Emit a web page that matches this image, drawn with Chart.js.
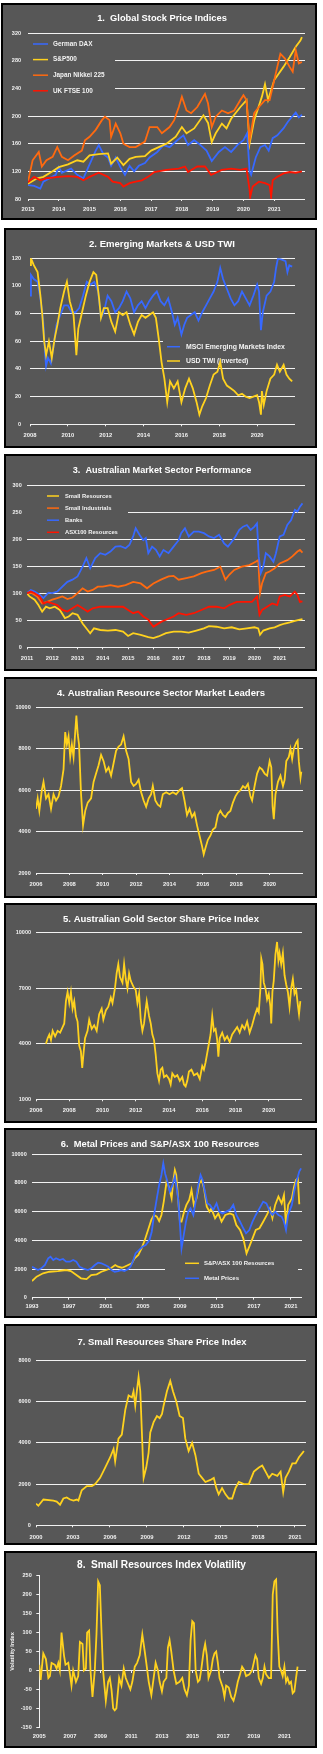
<!DOCTYPE html>
<html>
<head>
<meta charset="utf-8">
<title>Market charts</title>
<script src="https://cdn.jsdelivr.net/npm/chart.js@4.4.1/dist/chart.umd.min.js"></script>
<style>
  body { margin: 0; background: #fff; }
  .panel { position: absolute; box-sizing: border-box; background: #575757; border: 2px solid #000; }
  .panel canvas { display: block; }
</style>
</head>
<body>
<script>
//Chart data - [year, value] pairs

//1. Global stock price indices
const daxSeries = [[2013.0,100],[2013.2,99],[2013.4,95],[2013.5,105],[2013.9,115],[2014.0,126],[2014.1,118],[2014.4,124],[2014.6,115],[2014.8,110],[2014.95,125],[2015.2,150],[2015.3,158],[2015.45,145],[2015.6,140],[2015.7,128],[2015.85,140],[2016.0,126],[2016.15,115],[2016.3,128],[2016.45,120],[2016.6,128],[2016.8,132],[2016.95,140],[2017.2,148],[2017.4,158],[2017.6,155],[2017.85,165],[2018.05,172],[2018.2,158],[2018.4,165],[2018.55,160],[2018.8,150],[2018.97,135],[2019.2,148],[2019.4,155],[2019.6,148],[2019.8,158],[2020.0,165],[2020.12,175],[2020.2,120],[2020.25,115],[2020.4,140],[2020.55,155],[2020.7,158],[2020.82,150],[2020.95,168],[2021.1,172],[2021.3,182],[2021.45,192],[2021.6,200],[2021.7,205],[2021.8,198],[2021.9,202]];
const spxSeries = [[2013.0,102],[2013.3,110],[2013.5,112],[2013.8,120],[2014.0,126],[2014.3,130],[2014.6,136],[2014.8,134],[2015.0,143],[2015.3,145],[2015.6,146],[2015.7,131],[2015.9,140],[2016.1,129],[2016.3,138],[2016.5,141],[2016.8,142],[2017.0,150],[2017.5,160],[2017.8,170],[2018.0,184],[2018.15,175],[2018.4,182],[2018.7,201],[2018.85,190],[2018.97,162],[2019.1,175],[2019.3,189],[2019.45,182],[2019.6,196],[2019.9,213],[2020.1,223],[2020.2,160],[2020.35,194],[2020.6,228],[2020.7,246],[2020.8,223],[2021.0,252],[2021.3,271],[2021.5,285],[2021.7,300],[2021.85,309],[2021.9,314]];
const nikkeiSeries = [[2013.0,105],[2013.15,136],[2013.35,148],[2013.45,127],[2013.6,136],[2013.8,141],[2013.95,155],[2014.1,141],[2014.3,136],[2014.5,143],[2014.75,150],[2014.85,165],[2015.0,170],[2015.2,180],[2015.4,194],[2015.5,199],[2015.65,194],[2015.7,170],[2015.85,189],[2016.0,175],[2016.1,160],[2016.3,155],[2016.5,155],[2016.8,163],[2016.95,184],[2017.2,184],[2017.35,175],[2017.6,184],[2017.75,194],[2017.9,213],[2018.0,228],[2018.15,208],[2018.3,204],[2018.5,213],[2018.75,232],[2018.85,218],[2018.97,184],[2019.1,199],[2019.3,208],[2019.5,204],[2019.7,208],[2019.9,223],[2020.0,230],[2020.1,223],[2020.2,165],[2020.35,204],[2020.5,213],[2020.7,223],[2020.85,223],[2020.95,242],[2021.1,271],[2021.2,290],[2021.35,283],[2021.5,271],[2021.6,264],[2021.7,295],[2021.8,276],[2021.9,278]];
const ftseSeries = [[2013.0,104],[2013.2,112],[2013.4,107],[2013.6,110],[2014.0,112],[2014.3,113],[2014.6,112],[2014.8,107],[2015.0,112],[2015.3,118],[2015.6,112],[2015.75,105],[2016.0,103],[2016.1,98],[2016.3,103],[2016.5,105],[2016.7,107],[2016.9,112],[2017.1,119],[2017.5,122],[2017.9,124],[2018.1,127],[2018.2,119],[2018.5,127],[2018.75,127],[2018.95,115],[2019.3,122],[2019.6,124],[2019.9,122],[2020.1,124],[2020.2,93],[2020.22,83],[2020.3,98],[2020.5,105],[2020.7,103],[2020.85,100],[2020.9,83],[2020.95,107],[2021.1,112],[2021.3,117],[2021.5,119],[2021.7,118],[2021.9,120]];

//2. Emerging markets & USD TWI
const msciSeries = [[2008.0,93],[2008.05,108],[2008.2,105],[2008.4,103],[2008.55,91],[2008.7,74],[2008.8,50],[2008.85,42],[2008.95,48],[2009.1,44],[2009.25,57],[2009.4,72],[2009.6,79],[2009.8,86],[2010.0,86],[2010.2,81],[2010.4,81],[2010.6,84],[2010.8,93],[2011.0,103],[2011.2,101],[2011.4,103],[2011.6,96],[2011.75,77],[2011.9,81],[2012.1,93],[2012.3,89],[2012.5,81],[2012.7,84],[2012.9,89],[2013.1,96],[2013.3,91],[2013.5,81],[2013.7,86],[2013.9,89],[2014.1,84],[2014.3,89],[2014.5,93],[2014.7,96],[2014.9,89],[2015.1,86],[2015.3,91],[2015.5,81],[2015.65,72],[2015.8,77],[2016.0,65],[2016.15,72],[2016.3,77],[2016.5,79],[2016.7,81],[2016.9,75],[2017.1,81],[2017.3,86],[2017.5,91],[2017.7,96],[2017.9,103],[2018.05,113],[2018.2,105],[2018.4,98],[2018.6,91],[2018.8,86],[2019.0,89],[2019.2,96],[2019.4,91],[2019.6,86],[2019.8,93],[2020.0,101],[2020.1,96],[2020.2,68],[2020.3,81],[2020.5,93],[2020.7,96],[2020.9,103],[2021.0,113],[2021.1,120],[2021.3,119],[2021.5,118],[2021.6,110],[2021.7,115],[2021.85,114]];
const usdTwiSeries = [[2008.0,115],[2008.05,120],[2008.2,115],[2008.4,110],[2008.55,93],[2008.65,79],[2008.75,60],[2008.85,50],[2009.0,60],[2009.15,48],[2009.3,62],[2009.45,72],[2009.6,84],[2009.8,96],[2009.95,103],[2010.1,89],[2010.3,79],[2010.45,50],[2010.55,69],[2010.75,81],[2010.95,93],[2011.15,103],[2011.35,110],[2011.5,108],[2011.65,91],[2011.75,77],[2011.9,84],[2012.1,84],[2012.3,74],[2012.5,67],[2012.7,81],[2012.9,79],[2013.1,81],[2013.3,72],[2013.5,65],[2013.7,74],[2013.9,79],[2014.1,77],[2014.3,79],[2014.5,81],[2014.65,77],[2014.8,62],[2014.95,45],[2015.1,33],[2015.25,16],[2015.4,31],[2015.6,26],[2015.8,31],[2016.0,16],[2016.2,26],[2016.4,33],[2016.6,26],[2016.8,16],[2016.95,7],[2017.1,13],[2017.3,19],[2017.5,28],[2017.7,36],[2017.9,38],[2018.05,45],[2018.2,33],[2018.4,28],[2018.6,26],[2018.8,24],[2019.0,21],[2019.2,22],[2019.4,20],[2019.6,19],[2019.8,20],[2020.0,21],[2020.1,16],[2020.2,7],[2020.25,24],[2020.35,14],[2020.5,24],[2020.7,33],[2020.9,36],[2021.05,43],[2021.2,38],[2021.4,43],[2021.55,36],[2021.7,33],[2021.85,31]];

//3. Australian market sector performance
const smallResSeries = [[2011.0,100],[2011.1,94],[2011.3,88],[2011.45,78],[2011.6,66],[2011.75,75],[2011.9,72],[2012.1,75],[2012.3,69],[2012.5,54],[2012.65,57],[2012.8,63],[2013.0,60],[2013.2,44],[2013.4,32],[2013.5,26],[2013.65,35],[2013.9,32],[2014.2,31],[2014.5,32],[2014.8,29],[2015.0,21],[2015.2,26],[2015.5,23],[2015.8,19],[2016.0,17],[2016.2,20],[2016.5,26],[2016.8,29],[2017.1,29],[2017.4,27],[2017.7,31],[2018.0,35],[2018.2,39],[2018.5,38],[2018.8,35],[2019.1,37],[2019.4,33],[2019.7,35],[2020.0,37],[2020.15,35],[2020.22,23],[2020.35,31],[2020.6,35],[2020.8,37],[2021.0,41],[2021.2,44],[2021.4,46],[2021.6,49],[2021.8,51],[2021.9,52]];
const smallIndSeries = [[2011.0,100],[2011.2,100],[2011.4,94],[2011.6,81],[2011.8,84],[2012.0,88],[2012.2,91],[2012.4,94],[2012.6,89],[2012.8,92],[2013.0,100],[2013.2,109],[2013.4,103],[2013.6,106],[2013.8,112],[2014.0,112],[2014.3,115],[2014.6,112],[2014.9,115],[2015.2,121],[2015.5,118],[2015.75,109],[2016.0,118],[2016.3,125],[2016.6,131],[2016.8,132],[2017.0,125],[2017.3,128],[2017.6,131],[2017.9,137],[2018.1,140],[2018.4,143],[2018.65,149],[2018.85,125],[2019.0,134],[2019.2,143],[2019.5,149],[2019.8,152],[2020.05,158],[2020.15,161],[2020.22,100],[2020.3,118],[2020.45,137],[2020.6,140],[2020.8,146],[2021.0,155],[2021.3,161],[2021.5,168],[2021.7,177],[2021.8,180],[2021.9,175]];
const banksSeries = [[2011.0,100],[2011.15,106],[2011.3,103],[2011.5,97],[2011.65,91],[2011.85,101],[2012.0,100],[2012.2,103],[2012.4,112],[2012.6,121],[2012.8,125],[2013.0,131],[2013.2,149],[2013.35,165],[2013.5,146],[2013.7,165],[2013.9,174],[2014.1,171],[2014.3,177],[2014.5,186],[2014.7,187],[2014.9,183],[2015.05,189],[2015.2,205],[2015.3,220],[2015.45,208],[2015.6,198],[2015.7,202],[2015.8,174],[2015.95,186],[2016.1,180],[2016.25,168],[2016.4,180],[2016.6,174],[2016.8,186],[2017.0,198],[2017.1,211],[2017.25,220],[2017.4,205],[2017.6,214],[2017.8,214],[2018.0,211],[2018.2,205],[2018.4,202],[2018.6,208],[2018.8,192],[2018.95,186],[2019.1,195],[2019.25,205],[2019.4,217],[2019.55,223],[2019.7,226],[2019.85,217],[2020.0,223],[2020.1,229],[2020.17,168],[2020.25,137],[2020.35,149],[2020.45,174],[2020.6,168],[2020.75,158],[2020.85,174],[2021.0,205],[2021.15,208],[2021.3,226],[2021.45,235],[2021.6,254],[2021.7,251],[2021.8,260],[2021.9,266]];
const asx100ResSeries = [[2011.0,100],[2011.15,103],[2011.3,100],[2011.5,94],[2011.65,81],[2011.8,84],[2012.0,81],[2012.2,78],[2012.4,69],[2012.6,66],[2012.8,72],[2013.0,78],[2013.2,72],[2013.4,66],[2013.6,72],[2013.9,75],[2014.2,75],[2014.5,75],[2014.8,75],[2015.0,69],[2015.2,63],[2015.4,66],[2015.6,57],[2015.8,51],[2016.0,38],[2016.1,41],[2016.3,47],[2016.5,51],[2016.8,57],[2017.0,63],[2017.3,60],[2017.6,63],[2017.9,69],[2018.2,75],[2018.5,75],[2018.8,72],[2019.0,78],[2019.3,84],[2019.6,84],[2019.9,84],[2020.1,94],[2020.2,60],[2020.3,69],[2020.5,75],[2020.7,81],[2020.9,78],[2021.0,94],[2021.2,97],[2021.4,94],[2021.6,103],[2021.7,97],[2021.8,84],[2021.9,85]];

//4. Australian resource sector market leaders
const resLeadersSeries = [[2006.0,5100],[2006.1,5600],[2006.2,5000],[2006.35,6000],[2006.45,6400],[2006.6,5600],[2006.75,5800],[2006.9,5100],[2007.05,5800],[2007.2,5500],[2007.35,5700],[2007.5,6200],[2007.65,7000],[2007.75,8800],[2007.85,8200],[2007.95,8600],[2008.05,7600],[2008.15,8200],[2008.25,7600],[2008.35,8800],[2008.42,9600],[2008.5,8700],[2008.58,8200],[2008.7,5800],[2008.82,4300],[2008.95,5000],[2009.1,5400],[2009.3,5600],[2009.45,6400],[2009.6,6800],[2009.75,7200],[2009.9,7700],[2010.05,7400],[2010.2,6900],[2010.35,7100],[2010.5,6700],[2010.65,7300],[2010.8,7900],[2010.95,8100],[2011.1,8200],[2011.25,8600],[2011.4,7900],[2011.55,7500],[2011.7,6400],[2011.85,6200],[2012.0,6300],[2012.15,6500],[2012.3,5900],[2012.45,5500],[2012.6,5200],[2012.75,5600],[2012.9,5800],[2013.0,6200],[2013.15,5500],[2013.3,5300],[2013.45,5200],[2013.6,5800],[2013.8,5900],[2014.0,5800],[2014.2,5900],[2014.4,5800],[2014.6,6000],[2014.75,6100],[2014.9,5500],[2015.05,4800],[2015.2,5100],[2015.35,4700],[2015.5,4900],[2015.65,4300],[2015.8,3800],[2015.95,3300],[2016.05,2900],[2016.15,3200],[2016.3,3600],[2016.45,3800],[2016.6,4100],[2016.75,4200],[2016.9,4800],[2017.05,5000],[2017.2,4800],[2017.35,4700],[2017.5,4900],[2017.65,5000],[2017.8,5400],[2017.95,5700],[2018.1,5900],[2018.25,6000],[2018.4,6200],[2018.55,6100],[2018.7,6300],[2018.85,5700],[2018.95,5500],[2019.1,6200],[2019.25,6800],[2019.4,7100],[2019.55,7000],[2019.7,6800],[2019.85,6700],[2020.0,7400],[2020.1,7100],[2020.18,5200],[2020.25,4600],[2020.35,5800],[2020.5,6400],[2020.65,6700],[2020.8,6200],[2020.9,6500],[2021.0,7400],[2021.15,7600],[2021.25,8000],[2021.35,7500],[2021.45,8000],[2021.6,8300],[2021.68,8400],[2021.75,7400],[2021.85,6600],[2021.9,6900]];

//5. Australian gold sector share price index
const goldSeries = [[2006.6,4000],[2006.7,4300],[2006.8,4500],[2006.9,4200],[2007.0,4700],[2007.15,4400],[2007.3,4700],[2007.45,4600],[2007.6,4900],[2007.7,5100],[2007.8,6300],[2007.9,6800],[2008.0,6200],[2008.1,6800],[2008.2,5900],[2008.3,6300],[2008.4,5500],[2008.5,5200],[2008.6,3900],[2008.7,3600],[2008.78,2700],[2008.85,3400],[2008.95,4300],[2009.1,4700],[2009.2,5300],[2009.35,4800],[2009.5,5000],[2009.65,4700],[2009.8,5600],[2009.95,5900],[2010.05,5300],[2010.2,5800],[2010.35,6000],[2010.5,6500],[2010.6,6200],[2010.75,7000],[2010.85,7800],[2010.95,8300],[2011.05,7600],[2011.2,7300],[2011.3,8300],[2011.4,7500],[2011.5,7000],[2011.6,7800],[2011.7,7400],[2011.85,7100],[2012.0,6900],[2012.1,6200],[2012.2,6700],[2012.3,5300],[2012.4,4700],[2012.5,5100],[2012.6,5900],[2012.66,6300],[2012.8,5500],[2012.9,5100],[2013.0,4500],[2013.1,4200],[2013.2,3400],[2013.3,2400],[2013.4,2000],[2013.5,2600],[2013.6,2700],[2013.7,2200],[2013.85,2300],[2014.0,2100],[2014.1,1800],[2014.2,2400],[2014.35,2200],[2014.5,2300],[2014.65,2000],[2014.8,2200],[2014.9,1800],[2015.0,1700],[2015.1,2000],[2015.2,2500],[2015.35,2600],[2015.5,2300],[2015.7,2400],[2015.85,2100],[2016.0,2800],[2016.1,2600],[2016.2,3000],[2016.3,3500],[2016.4,4000],[2016.5,4500],[2016.6,5500],[2016.7,4700],[2016.8,4800],[2016.9,4200],[2016.97,3300],[2017.05,4300],[2017.2,4600],[2017.35,4200],[2017.5,4400],[2017.65,4100],[2017.8,4500],[2017.95,4700],[2018.1,4900],[2018.25,4600],[2018.4,5000],[2018.55,4800],[2018.7,5200],[2018.85,4600],[2019.0,5000],[2019.15,5500],[2019.3,5900],[2019.4,5700],[2019.5,7000],[2019.55,8600],[2019.62,8300],[2019.7,7300],[2019.8,7000],[2019.9,6400],[2020.0,6700],[2020.1,6000],[2020.15,5100],[2020.22,6800],[2020.3,7400],[2020.4,8800],[2020.5,9500],[2020.58,8500],[2020.65,8900],[2020.75,8300],[2020.85,8900],[2020.95,7700],[2021.05,7200],[2021.15,6800],[2021.25,6000],[2021.35,7000],[2021.45,7500],[2021.55,6700],[2021.65,6900],[2021.75,6100],[2021.82,5600],[2021.9,6300]];

//6. Metal prices and S&P/ASX 100 resources
const resourcesSeries = [[1993.0,1160],[1993.5,1470],[1994.2,1700],[1994.9,1810],[1995.8,1860],[1996.7,1930],[1997.2,1860],[1997.8,1580],[1998.3,1350],[1998.9,1300],[1999.4,1580],[2000.0,1630],[2000.5,1810],[2001.05,1930],[2001.6,2090],[2002.0,2280],[2002.3,2160],[2002.7,2090],[2003.0,2160],[2003.4,2280],[2003.8,2400],[2004.1,2750],[2004.5,2980],[2004.85,3440],[2005.2,4020],[2005.55,4720],[2005.9,5420],[2006.2,5770],[2006.5,5650],[2006.75,5350],[2007.0,5770],[2007.25,6700],[2007.55,8090],[2007.8,7750],[2008.1,6930],[2008.27,8090],[2008.45,8900],[2008.6,8560],[2008.8,6930],[2009.0,5300],[2009.17,5300],[2009.45,6000],[2009.7,6470],[2010.0,6820],[2010.25,7510],[2010.5,6470],[2010.8,6930],[2011.1,7980],[2011.35,8210],[2011.6,7630],[2011.9,6350],[2012.2,6000],[2012.4,6230],[2012.8,5540],[2013.15,5880],[2013.5,5300],[2013.9,5770],[2014.4,5880],[2014.77,5770],[2015.1,5070],[2015.5,4720],[2015.85,4140],[2016.2,3090],[2016.5,3560],[2016.85,4140],[2017.2,4720],[2017.6,4840],[2018.0,5300],[2018.4,5770],[2018.74,6230],[2019.0,5540],[2019.3,6470],[2019.65,7050],[2020.0,6580],[2020.25,7160],[2020.47,5070],[2020.7,6470],[2021.1,6930],[2021.35,7750],[2021.55,8210],[2021.75,8330],[2021.9,6580],[2022.0,6580]];
const metalSeries = [[1993.0,2160],[1993.3,2050],[1993.65,1930],[1994.0,2050],[1994.4,2280],[1994.75,2750],[1995.0,2860],[1995.3,2630],[1995.6,2750],[1996.0,2630],[1996.35,2700],[1996.7,2510],[1997.1,2510],[1997.45,2630],[1997.8,2510],[1998.15,2160],[1998.5,2050],[1999.05,1930],[1999.4,2050],[1999.8,2280],[2000.15,2440],[2000.5,2400],[2000.9,2280],[2001.25,2160],[2001.6,1930],[2001.95,1810],[2002.3,1860],[2002.65,1930],[2003.0,1860],[2003.4,2000],[2003.65,2160],[2003.9,2510],[2004.2,3090],[2004.6,3330],[2004.95,3560],[2005.3,3680],[2005.7,4020],[2005.95,4600],[2006.2,5770],[2006.5,6930],[2006.75,7860],[2007.0,8560],[2007.2,9370],[2007.4,8650],[2007.6,8210],[2007.9,7400],[2008.2,7860],[2008.45,8440],[2008.6,7860],[2008.8,6930],[2009.0,5070],[2009.17,3440],[2009.35,4140],[2009.65,5300],[2009.9,6000],[2010.15,6230],[2010.45,5770],[2010.7,6700],[2010.95,7750],[2011.23,8560],[2011.45,8210],[2011.7,7400],[2011.95,6580],[2012.25,6470],[2012.6,6120],[2012.96,6580],[2013.25,6000],[2013.6,5880],[2014.0,6000],[2014.4,6120],[2014.77,6470],[2015.1,5770],[2015.5,5300],[2015.85,4840],[2016.15,4490],[2016.5,4720],[2016.85,5300],[2017.2,5770],[2017.6,6230],[2018.0,6700],[2018.35,6580],[2018.74,6000],[2019.0,5770],[2019.3,6000],[2019.65,5770],[2020.0,5650],[2020.25,5300],[2020.47,4720],[2020.7,5770],[2021.1,6470],[2021.35,7400],[2021.6,8090],[2021.9,8790],[2022.1,9020]];

//7. Small resources share price index
const smallResIndexSeries = [[2000.0,1050],[2000.19,950],[2000.6,1250],[2001.41,1200],[2001.68,1150],[2001.95,1000],[2002.22,1300],[2002.49,1350],[2002.76,1250],[2003.04,1200],[2003.31,1250],[2003.44,1200],[2003.71,1700],[2004.12,1900],[2004.53,1900],[2004.8,2000],[2005.2,2300],[2005.61,2800],[2006.02,3300],[2006.29,3700],[2006.42,3100],[2006.69,4200],[2006.96,4400],[2007.24,5600],[2007.51,6300],[2007.78,6200],[2007.91,6500],[2008.05,5800],[2008.18,6500],[2008.32,7200],[2008.46,6500],[2008.59,4500],[2008.73,2300],[2008.94,2800],[2009.13,3500],[2009.27,4500],[2009.54,5000],[2009.81,5300],[2010.03,5200],[2010.22,5400],[2010.35,5800],[2010.62,6500],[2010.89,7000],[2011.11,6500],[2011.38,6000],[2011.65,5300],[2011.92,5200],[2012.11,4200],[2012.38,3600],[2012.66,4000],[2012.93,3400],[2013.2,2500],[2013.47,2300],[2013.74,2100],[2014.15,2200],[2014.42,2300],[2014.63,1800],[2014.82,1500],[2015.09,1800],[2015.37,1500],[2015.64,1300],[2015.91,1300],[2016.18,1800],[2016.45,2100],[2016.86,2000],[2017.26,2000],[2017.67,2600],[2018.08,2800],[2018.35,2900],[2018.62,2600],[2018.89,2300],[2019.16,2500],[2019.57,2400],[2019.84,2600],[2020.05,1600],[2020.24,2300],[2020.51,2600],[2020.79,3000],[2021.06,3000],[2021.33,3300],[2021.6,3500],[2021.73,3600]];

//8. Small resources index volatility
const volatilitySeries = [[2005.0,15],[2005.09,-25],[2005.26,45],[2005.43,30],[2005.59,-20],[2005.69,-15],[2005.8,20],[2006.02,15],[2006.13,5],[2006.24,20],[2006.34,0],[2006.45,100],[2006.61,40],[2006.71,15],[2006.89,20],[2007.0,-10],[2007.1,-40],[2007.21,0],[2007.39,-30],[2007.54,-15],[2007.65,75],[2007.82,70],[2007.91,0],[2008.04,5],[2008.12,100],[2008.25,105],[2008.34,0],[2008.47,-70],[2008.62,0],[2008.73,95],[2008.84,235],[2008.95,225],[2009.06,100],[2009.16,0],[2009.34,-80],[2009.49,-30],[2009.6,-20],[2009.71,-50],[2009.82,-100],[2009.92,-105],[2010.03,-100],[2010.21,-20],[2010.36,-40],[2010.51,5],[2010.64,-20],[2010.79,-35],[2010.94,-50],[2011.07,-30],[2011.23,10],[2011.38,20],[2011.55,40],[2011.72,95],[2011.88,50],[2011.98,20],[2012.14,-30],[2012.31,-65],[2012.46,-20],[2012.59,20],[2012.74,0],[2012.85,-30],[2013.0,-55],[2013.11,-30],[2013.29,-20],[2013.39,60],[2013.5,80],[2013.61,50],[2013.76,0],[2013.94,-35],[2014.15,-30],[2014.33,-20],[2014.48,-50],[2014.63,-65],[2014.76,-40],[2014.87,80],[2014.98,130],[2015.09,125],[2015.2,0],[2015.35,-30],[2015.46,-25],[2015.56,0],[2015.72,50],[2015.82,70],[2015.93,40],[2016.04,-20],[2016.21,0],[2016.32,30],[2016.43,45],[2016.54,50],[2016.65,20],[2016.76,-20],[2016.97,-45],[2017.08,-70],[2017.19,-40],[2017.36,-45],[2017.52,-70],[2017.67,-80],[2017.8,-60],[2017.95,-30],[2018.06,-15],[2018.23,10],[2018.38,0],[2018.49,-15],[2018.71,-10],[2018.88,0],[2018.99,20],[2019.1,40],[2019.21,30],[2019.32,-20],[2019.47,-35],[2019.58,-20],[2019.69,10],[2019.79,-10],[2019.97,-20],[2020.12,-20],[2020.23,200],[2020.34,235],[2020.45,240],[2020.55,100],[2020.66,10],[2020.77,0],[2020.88,-15],[2020.99,10],[2021.1,-30],[2021.2,-20],[2021.31,-35],[2021.42,-30],[2021.53,-60],[2021.64,-55],[2021.75,-20],[2021.85,10]];

//Tick labels
const years2013 = [2013, 2014, 2015, 2016, 2017, 2018, 2019, 2020, 2021];
const years2008 = [2008, 2010, 2012, 2014, 2016, 2018, 2020];
const years2011 = [2011, 2012, 2013, 2014, 2015, 2016, 2017, 2018, 2019, 2020, 2021];
const years2006 = [2006, 2008, 2010, 2012, 2014, 2016, 2018, 2020];
const years1993 = [1993, 1997, 2001, 2005, 2009, 2013, 2017, 2021];
const years2000 = [2000, 2003, 2006, 2009, 2012, 2015, 2018, 2021];
const years2005 = [2005, 2007, 2009, 2011, 2013, 2015, 2017, 2019, 2021];
const stockTicks = [80, 120, 160, 200, 240, 280, 320];
const emTicks = [0, 20, 40, 60, 80, 100, 120];
const sectorTicks = [0, 50, 100, 150, 200, 250, 300];
const leadersTicks = [2000, 4000, 6000, 8000, 10000];
const goldTicks = [1000, 4000, 7000, 10000];
const metalTicks = [0, 2000, 4000, 6000, 8000, 10000];
const smallResTicks = [0, 2000, 4000, 6000, 8000];
const volTicks = [-150, -100, -50, 0, 50, 100, 150, 200, 250];

//Styling
const BG = '#575757';
const TEXT = '#f2f2f2';
const FONT = '"Liberation Sans", Arial, sans-serif';
const BLUE = '#3769ff';
const YELLOW = '#ffd21e';
const ORANGE = '#ff6a10';
const RED = '#ff1400';

const toPoints = series => series.map(([x, y]) => ({ x: x, y: y }));

//Title centred on the panel, sized to the width it has in the original
function titlePlugin(t, ox, oy) {
  return {
    id: 'panelTitle',
    afterDraw(chart) {
      const ctx = chart.ctx;
      ctx.save();
      ctx.font = `bold 10px ${FONT}`;
      const size = 10 * t.width / ctx.measureText(t.text).width;
      ctx.font = `bold ${size}px ${FONT}`;
      ctx.fillStyle = '#ffffff';
      ctx.textAlign = 'center';
      ctx.textBaseline = 'middle';
      ctx.fillText(t.text, t.x - ox, t.y - oy);
      ctx.restore();
    }
  };
}

//Excel style legend: box covers the gridlines, the lines are drawn over it
function legendPlugin(lg, series, ox, oy) {
  return {
    id: 'boxLegend',
    beforeDatasetsDraw(chart) {
      if (!lg) return;
      const ctx = chart.ctx;
      const [x1, y1, x2, y2] = lg.box;
      ctx.save();
      ctx.fillStyle = BG;
      ctx.fillRect(x1 - ox, y1 - oy, x2 - x1, y2 - y1);
      ctx.font = `bold ${lg.size}px ${FONT}`;
      ctx.textBaseline = 'middle';
      series.forEach((s, row) => {
        const y = lg.firstY + row * lg.gap - oy;
        ctx.strokeStyle = s.color;
        ctx.lineWidth = 1.5;
        ctx.beginPath();
        ctx.moveTo(lg.lineX[0] - ox, y);
        ctx.lineTo(lg.lineX[1] - ox, y);
        ctx.stroke();
        ctx.fillStyle = TEXT;
        ctx.fillText(s.label, lg.textX - ox, y);
      });
      ctx.restore();
    }
  };
}

function makeChart(cfg) {
  const [bl, bt, br, bb] = cfg.box;
  const panel = document.createElement('div');
  panel.className = 'panel';
  panel.style.left = bl + 'px';
  panel.style.top = bt + 'px';
  panel.style.width = (br - bl) + 'px';
  panel.style.height = (bb - bt) + 'px';
  const canvas = document.createElement('canvas');
  canvas.width = br - bl - 4;
  canvas.height = bb - bt - 4;
  panel.appendChild(canvas);
  document.body.appendChild(panel);

  //page coordinates -> canvas coordinates
  const ox = bl + 2, oy = bt + 2;
  const [pl, pt, pr, pb] = cfg.plot;
  const left = pl - ox, top = pt - oy, right = pr - ox, bottom = pb - oy;
  const marks = cfg.xTickMarks !== false;

  const scales = {
    x: {
      type: 'linear',
      min: cfg.xMin,
      max: cfg.xMax,
      afterBuildTicks: scale => { scale.ticks = cfg.xTicks.map(v => ({ value: v })); },
      afterFit: scale => { scale.height = canvas.height - bottom; },
      grid: { drawOnChartArea: false, drawTicks: marks, tickLength: 2, color: TEXT },
      border: { display: false },
      ticks: {
        color: TEXT,
        font: { family: FONT, size: 5.8, weight: 'bold' },
        autoSkip: false,
        maxRotation: 0,
        padding: (cfg.xLabelY - pb) - (marks ? 2 : 0) - 5.8 * 0.6,
        callback: v => String(v)
      }
    },
    y: {
      type: 'linear',
      min: cfg.yMin,
      max: cfg.yMax,
      afterBuildTicks: scale => { scale.ticks = cfg.yTicks.map(v => ({ value: v })); },
      afterFit: scale => { scale.width = left; },
      grid: { color: TEXT, drawTicks: false },
      border: { display: false },
      ticks: {
        color: TEXT,
        font: { family: FONT, size: 5.5, weight: 'bold' },
        padding: cfg.yPad,
        callback: v => String(v)
      }
    }
  };
  if (cfg.extend) cfg.extend(scales);

  return new Chart(canvas, {
    type: 'line',
    data: {
      datasets: cfg.series.map((s, i) => ({
        label: s.label,
        data: toPoints(s.data),
        borderColor: s.color,
        borderWidth: 1.8,
        pointRadius: 0,
        tension: 0,
        order: cfg.series.length - i //later series on top
      }))
    },
    options: {
      responsive: false,
      animation: false,
      events: [],
      layout: { padding: { left: 0, top: top, right: canvas.width - right, bottom: 0 } },
      plugins: { legend: { display: false }, tooltip: { enabled: false } },
      scales: scales
    },
    plugins: [titlePlugin(cfg.title, ox, oy), legendPlugin(cfg.legend, cfg.series, ox, oy)]
  });
}

//1. Global Stock Price Indices
makeChart({
  box: [1, 3, 317, 220], plot: [28, 33, 305, 199],
  xMin: 2013, xMax: 2022, xTicks: years2013, xLabelY: 209,
  yMin: 80, yMax: 320, yTicks: stockTicks, yPad: 7,
  title: { text: '1.  Global Stock Price Indices', x: 162, y: 18.3, width: 130 },
  legend: { box: [28, 37, 115, 98], lineX: [33, 48], textX: 53, firstY: 44, gap: 15.6, size: 6.4 },
  series: [
    { label: 'German DAX', data: daxSeries, color: BLUE },
    { label: 'S&P500', data: spxSeries, color: YELLOW },
    { label: 'Japan Nikkei 225', data: nikkeiSeries, color: ORANGE },
    { label: 'UK FTSE 100', data: ftseSeries, color: RED }
  ]
});

//2. Emerging Markets & USD TWI
makeChart({
  box: [4, 228, 317, 448], plot: [30, 258.3, 295, 424.3],
  xMin: 2008, xMax: 2022, xTicks: years2008, xLabelY: 435,
  yMin: 0, yMax: 120, yTicks: emTicks, yPad: 9,
  title: { text: '2. Emerging Markets & USD TWI', x: 162, y: 244.3, width: 146 },
  legend: { box: [163, 336, 296, 367], lineX: [167, 180], textX: 186, firstY: 346.7, gap: 14.3, size: 6.9 },
  series: [
    { label: 'MSCI Emerging Markets Index', data: msciSeries, color: BLUE },
    { label: 'USD TWI (inverted)', data: usdTwiSeries, color: YELLOW }
  ]
});

//3. Australian Market Sector Performance
makeChart({
  box: [4, 454, 317, 671], plot: [27, 485, 305, 647.3],
  xMin: 2011, xMax: 2022, xTicks: years2011, xLabelY: 658.3,
  yMin: 0, yMax: 300, yTicks: sectorTicks, yPad: 5.3,
  title: { text: '3.  Australian Market Sector Performance', x: 162, y: 470, width: 179 },
  legend: { box: [27, 490, 128, 537], lineX: [47, 59], textX: 65, firstY: 496, gap: 12.1, size: 5.8 },
  series: [
    { label: 'Small Resources', data: smallResSeries, color: YELLOW },
    { label: 'Small Industrials', data: smallIndSeries, color: ORANGE },
    { label: 'Banks', data: banksSeries, color: BLUE },
    { label: 'ASX100 Resources', data: asx100ResSeries, color: RED }
  ]
});

//4. Australian Resource Sector Market Leaders
makeChart({
  box: [4, 677, 317, 898], plot: [36, 707.3, 303, 873],
  xMin: 2006, xMax: 2022, xTicks: years2006, xLabelY: 884,
  yMin: 2000, yMax: 10000, yTicks: leadersTicks, yPad: 5.3,
  title: { text: '4. Australian Resource Sector Market Leaders', x: 161, y: 693, width: 208 },
  series: [{ label: 'Resource leaders', data: resLeadersSeries, color: YELLOW }]
});

//5. Australian Gold Sector Share Price Index
makeChart({
  box: [4, 903, 317, 1123], plot: [36, 932.7, 302, 1099.3],
  xMin: 2006, xMax: 2022, xTicks: years2006, xLabelY: 1110,
  yMin: 1000, yMax: 10000, yTicks: goldTicks, yPad: 5,
  title: { text: '5. Australian Gold Sector Share Price Index', x: 161, y: 919, width: 196 },
  series: [{ label: 'Gold sector', data: goldSeries, color: YELLOW }]
});

//6. Metal Prices and S&P/ASX 100 Resources
makeChart({
  box: [4, 1128, 317, 1318], plot: [32, 1154.3, 302, 1297.7],
  xMin: 1993, xMax: 2022.2, xTicks: years1993, xLabelY: 1306,
  yMin: 0, yMax: 10000, yTicks: metalTicks, yPad: 5.3,
  title: { text: '6.  Metal Prices and S&P/ASX 100 Resources', x: 160, y: 1144, width: 199 },
  legend: { box: [165, 1255, 298, 1288], lineX: [185, 199], textX: 204, firstY: 1263.3, gap: 15, size: 6 },
  series: [
    { label: 'S&P/ASX 100 Resources', data: resourcesSeries, color: YELLOW },
    { label: 'Metal Prices', data: metalSeries, color: BLUE }
  ]
});

//7. Small Resources Share Price Index
makeChart({
  box: [4, 1324, 317, 1545], plot: [36, 1360.3, 306, 1525.3],
  xMin: 2000, xMax: 2021.9, xTicks: years2000, xLabelY: 1537,
  yMin: 0, yMax: 8000, yTicks: smallResTicks, yPad: 5.3,
  title: { text: '7. Small Resources Share Price Index', x: 162, y: 1342, width: 169 },
  series: [{ label: 'Small resources', data: smallResIndexSeries, color: YELLOW }]
});

//8. Small Resources Index Volatility - axis line, zero line with tick marks
makeChart({
  box: [4, 1551, 317, 1748], plot: [39.3, 1575.7, 306, 1727.3],
  xMin: 2005, xMax: 2022.4, xTicks: years2005, xLabelY: 1736.7, xTickMarks: false,
  yMin: -150, yMax: 250, yTicks: volTicks, yPad: 4.6,
  title: { text: '8.  Small Resources Index Volatility', x: 161.5, y: 1565, width: 169 },
  series: [{ label: 'Volatility', data: volatilitySeries, color: YELLOW }],
  extend: scales => {
    scales.y.grid = {
      color: c => c.tick.value === 0 ? TEXT : 'rgba(0,0,0,0)',
      drawTicks: true, tickLength: 3, tickColor: TEXT
    };
    scales.y.border = { display: true, color: TEXT, width: 1 };
    scales.y.title = {
      display: true, text: 'Volatility Index', color: TEXT,
      font: { family: FONT, size: 5.5, weight: 'bold' },
      padding: { top: 2.7, bottom: 0 }
    };
    scales.x2 = {
      type: 'linear',
      position: { y: 0 },
      min: 2005, max: 2022.4,
      afterBuildTicks: scale => { scale.ticks = years2005.map(v => ({ value: v })); },
      grid: { drawOnChartArea: false, drawTicks: true, tickLength: 3, color: TEXT },
      border: { display: false },
      ticks: { display: false }
    };
  }
});
</script>
</body>
</html>
